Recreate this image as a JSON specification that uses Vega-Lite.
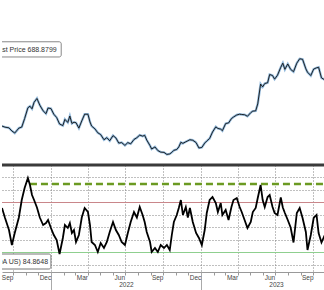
{
"$schema": "https://vega.github.io/schema/vega-lite/v6.json",
"padding": 0,
"background": "white",
"spacing": 0,
"bounds": "flush",
"config": {"view": {"stroke": null}, "font": "Liberation Sans"},
"datasets": {
"price": [
{"d":"2021-09-04","p":226},{"d":"2021-09-11","p":222},{"d":"2021-09-21","p":219},{"d":"2021-09-28","p":207},{"d":"2021-10-05","p":199},{"d":"2021-10-15","p":218},{"d":"2021-10-22","p":222},{"d":"2021-10-29","p":255},{"d":"2021-11-06","p":297},{"d":"2021-11-11","p":303},{"d":"2021-11-16","p":293},{"d":"2021-11-21","p":318},{"d":"2021-11-28","p":333},{"d":"2021-12-05","p":307},{"d":"2021-12-13","p":285},{"d":"2021-12-20","p":274},{"d":"2021-12-25","p":296},
{"d":"2022-01-01","p":294},{"d":"2022-01-08","p":272},{"d":"2022-01-15","p":259},{"d":"2022-01-22","p":234},{"d":"2022-01-30","p":228},{"d":"2022-02-04","p":252},{"d":"2022-02-11","p":240},{"d":"2022-02-16","p":265},{"d":"2022-02-21","p":236},{"d":"2022-02-26","p":241},{"d":"2022-03-03","p":239},{"d":"2022-03-10","p":218},{"d":"2022-03-17","p":246},{"d":"2022-03-24","p":272},{"d":"2022-04-01","p":272},{"d":"2022-04-06","p":242},{"d":"2022-04-10","p":226},{"d":"2022-04-18","p":215},{"d":"2022-04-25","p":200},{"d":"2022-05-02","p":193},{"d":"2022-05-10","p":173},{"d":"2022-05-17","p":181},{"d":"2022-05-24","p":169},{"d":"2022-06-01","p":189},{"d":"2022-06-08","p":180},{"d":"2022-06-15","p":160},{"d":"2022-06-22","p":162},{"d":"2022-06-30","p":151},{"d":"2022-07-07","p":162},{"d":"2022-07-14","p":157},{"d":"2022-07-22","p":174},{"d":"2022-07-29","p":181},{"d":"2022-08-05","p":191},{"d":"2022-08-12","p":187},{"d":"2022-08-17","p":190},{"d":"2022-08-22","p":172},{"d":"2022-08-30","p":150},{"d":"2022-09-03","p":137},{"d":"2022-09-11","p":145},{"d":"2022-09-18","p":131},{"d":"2022-09-25","p":125},{"d":"2022-10-03","p":124},{"d":"2022-10-10","p":116},{"d":"2022-10-17","p":118},{"d":"2022-10-22","p":124},{"d":"2022-10-27","p":132},{"d":"2022-11-03","p":135},{"d":"2022-11-08","p":145},{"d":"2022-11-13","p":163},{"d":"2022-11-18","p":159},{"d":"2022-11-25","p":165},{"d":"2022-11-30","p":169},{"d":"2022-12-05","p":173},{"d":"2022-12-12","p":171},{"d":"2022-12-20","p":162},{"d":"2022-12-27","p":141},
{"d":"2023-01-03","p":143},{"d":"2023-01-10","p":160},{"d":"2023-01-15","p":168},{"d":"2023-01-22","p":178},{"d":"2023-01-29","p":203},{"d":"2023-02-06","p":223},{"d":"2023-02-11","p":217},{"d":"2023-02-18","p":214},{"d":"2023-02-22","p":208},{"d":"2023-03-02","p":236},{"d":"2023-03-09","p":238},{"d":"2023-03-16","p":255},{"d":"2023-03-21","p":261},{"d":"2023-03-29","p":269},{"d":"2023-04-05","p":272},{"d":"2023-04-10","p":271},{"d":"2023-04-17","p":270},{"d":"2023-04-24","p":264},{"d":"2023-05-02","p":278},{"d":"2023-05-07","p":284},{"d":"2023-05-14","p":285},{"d":"2023-05-19","p":312},{"d":"2023-05-26","p":389},{"d":"2023-05-31","p":378},{"d":"2023-06-05","p":391},{"d":"2023-06-12","p":394},{"d":"2023-06-17","p":426},{"d":"2023-06-24","p":422},{"d":"2023-06-29","p":408},{"d":"2023-07-06","p":423},{"d":"2023-07-14","p":454},{"d":"2023-07-19","p":470},{"d":"2023-07-24","p":446},{"d":"2023-07-31","p":467},{"d":"2023-08-07","p":446},{"d":"2023-08-14","p":437},{"d":"2023-08-22","p":470},{"d":"2023-08-29","p":487},{"d":"2023-09-05","p":485},{"d":"2023-09-13","p":448},{"d":"2023-09-17","p":435},{"d":"2023-09-25","p":422},{"d":"2023-10-02","p":447},{"d":"2023-10-09","p":452},{"d":"2023-10-14","p":454},{"d":"2023-10-21","p":413},{"d":"2023-10-29","p":405}
],
"rsi": [
{"d":"2021-09-04","r":65.6},{"d":"2021-09-11","r":58},{"d":"2021-09-21","r":48},{"d":"2021-09-28","r":36},{"d":"2021-10-05","r":45.6},{"d":"2021-10-15","r":58},{"d":"2021-10-22","r":72},{"d":"2021-10-29","r":81.6},{"d":"2021-11-06","r":89.6},{"d":"2021-11-11","r":84},{"d":"2021-11-16","r":76},{"d":"2021-11-21","r":72},{"d":"2021-11-28","r":66},{"d":"2021-12-05","r":58},{"d":"2021-12-13","r":52},{"d":"2021-12-20","r":53.6},{"d":"2021-12-25","r":56},
{"d":"2022-01-01","r":49.6},{"d":"2022-01-08","r":44},{"d":"2022-01-15","r":40},{"d":"2022-01-22","r":28.8},{"d":"2022-01-30","r":41.6},{"d":"2022-02-04","r":52},{"d":"2022-02-11","r":49.6},{"d":"2022-02-16","r":53.6},{"d":"2022-02-21","r":45.6},{"d":"2022-02-26","r":48},{"d":"2022-03-03","r":38.4},{"d":"2022-03-10","r":44},{"d":"2022-03-17","r":58},{"d":"2022-03-24","r":65.6},{"d":"2022-04-01","r":62.4},{"d":"2022-04-06","r":52},{"d":"2022-04-10","r":38.4},{"d":"2022-04-18","r":36},{"d":"2022-04-25","r":30.4},{"d":"2022-05-02","r":37.6},{"d":"2022-05-10","r":33.6},{"d":"2022-05-17","r":38.4},{"d":"2022-05-24","r":46.4},{"d":"2022-06-01","r":54.4},{"d":"2022-06-08","r":48},{"d":"2022-06-15","r":44},{"d":"2022-06-22","r":38.4},{"d":"2022-06-30","r":36},{"d":"2022-07-07","r":45.6},{"d":"2022-07-14","r":54.4},{"d":"2022-07-22","r":62.4},{"d":"2022-07-29","r":58},{"d":"2022-08-05","r":66.4},{"d":"2022-08-12","r":60},{"d":"2022-08-17","r":54.4},{"d":"2022-08-22","r":46.4},{"d":"2022-08-30","r":38.4},{"d":"2022-09-03","r":30.4},{"d":"2022-09-11","r":33.6},{"d":"2022-09-18","r":30.4},{"d":"2022-09-25","r":36},{"d":"2022-10-03","r":33.6},{"d":"2022-10-10","r":36},{"d":"2022-10-17","r":32},{"d":"2022-10-22","r":44},{"d":"2022-10-27","r":54.4},{"d":"2022-11-03","r":60},{"d":"2022-11-08","r":65.6},{"d":"2022-11-13","r":72},{"d":"2022-11-18","r":60},{"d":"2022-11-25","r":66.4},{"d":"2022-11-30","r":58},{"d":"2022-12-05","r":65.6},{"d":"2022-12-12","r":54.4},{"d":"2022-12-20","r":45.6},{"d":"2022-12-27","r":41.6},
{"d":"2023-01-03","r":36},{"d":"2023-01-10","r":48},{"d":"2023-01-15","r":61.6},{"d":"2023-01-22","r":72},{"d":"2023-01-29","r":74.4},{"d":"2023-02-06","r":69.6},{"d":"2023-02-11","r":62.4},{"d":"2023-02-18","r":69.6},{"d":"2023-02-22","r":60},{"d":"2023-03-02","r":64},{"d":"2023-03-09","r":56},{"d":"2023-03-16","r":66.4},{"d":"2023-03-21","r":72},{"d":"2023-03-29","r":73.6},{"d":"2023-04-05","r":66.4},{"d":"2023-04-10","r":62.4},{"d":"2023-04-17","r":56},{"d":"2023-04-24","r":49.6},{"d":"2023-05-02","r":54.4},{"d":"2023-05-07","r":62.4},{"d":"2023-05-14","r":65.6},{"d":"2023-05-19","r":73.6},{"d":"2023-05-26","r":84},{"d":"2023-05-31","r":72},{"d":"2023-06-05","r":66.4},{"d":"2023-06-12","r":74.4},{"d":"2023-06-17","r":76},{"d":"2023-06-24","r":66.4},{"d":"2023-06-29","r":61.6},{"d":"2023-07-06","r":60},{"d":"2023-07-14","r":74},{"d":"2023-07-19","r":66},{"d":"2023-07-24","r":61.6},{"d":"2023-07-31","r":56},{"d":"2023-08-07","r":50},{"d":"2023-08-14","r":38},{"d":"2023-08-22","r":61.6},{"d":"2023-08-29","r":65.6},{"d":"2023-09-05","r":57.6},{"d":"2023-09-13","r":46.4},{"d":"2023-09-17","r":32},{"d":"2023-09-25","r":44},{"d":"2023-10-02","r":57.6},{"d":"2023-10-09","r":60},{"d":"2023-10-14","r":45.6},{"d":"2023-10-21","r":38},{"d":"2023-10-29","r":44}
]
},
"vconcat": [
{
"width": 324, "height": 165,
"layer": [
{"data": {"name": "price"},
 "mark": {"type": "line", "color": "#6fa3d0", "strokeWidth": 2.4, "opacity": 0.75, "clip": true},
 "encoding": {
  "x": {"field": "d", "type": "temporal", "scale": {"domain": [{"year":2021,"month":9,"date":4},{"year":2023,"month":11,"date":1}]},
        "axis": {"orient": "bottom", "tickCount": {"interval": "month", "step": 3}, "grid": true, "gridColor": "#808080", "gridOpacity": 1, "gridDash": [1,2], "gridWidth": 1, "labels": false, "ticks": false, "domain": false, "title": null}},
  "y": {"field": "p", "type": "quantitative", "scale": {"domain": [75, 715], "nice": false, "zero": false},
        "axis": {"values": [100,200,300,400,500,600,700], "grid": true, "gridColor": "#808080", "gridOpacity": 1, "gridDash": [1,2], "gridWidth": 1, "labels": false, "ticks": false, "domain": false, "title": null}}
 }},
{"data": {"name": "price"},
 "mark": {"type": "line", "color": "#111111", "strokeWidth": 0.9, "clip": true},
 "encoding": {
  "x": {"field": "d", "type": "temporal", "scale": {"domain": [{"year":2021,"month":9,"date":4},{"year":2023,"month":11,"date":1}]}, "axis": null},
  "y": {"field": "p", "type": "quantitative", "scale": {"domain": [75, 715], "nice": false, "zero": false}, "axis": null}
 }},
{"data": {"values": [{"label": "Last Price 688.8799"}]},
 "mark": {"type": "rect", "fill": "white", "stroke": "#888888", "strokeWidth": 1, "cornerRadius": 2, "clip": true},
 "encoding": {
  "x": {"datum": {"year":2021,"month":7,"date":1}, "type": "temporal", "scale": {"domain": [{"year":2021,"month":9,"date":4},{"year":2023,"month":11,"date":1}]}, "axis": null},
  "x2": {"datum": {"year":2022,"month":1,"date":26}},
  "y": {"datum": 494, "type": "quantitative", "scale": {"domain": [75, 715], "nice": false, "zero": false}, "axis": null},
  "y2": {"datum": 553}
 }},
{"data": {"values": [{"label": "Last Price 688.8799"}]},
 "mark": {"type": "text", "align": "right", "baseline": "middle", "fontSize": 7, "color": "#333333", "clip": true},
 "encoding": {
  "x": {"datum": {"year":2022,"month":1,"date":15}, "type": "temporal", "scale": {"domain": [{"year":2021,"month":9,"date":4},{"year":2023,"month":11,"date":1}]}, "axis": null},
  "y": {"datum": 523, "type": "quantitative", "scale": {"domain": [75, 715], "nice": false, "zero": false}, "axis": null},
  "text": {"field": "label"}
 }}
]
},
{
"width": 324, "height": 107,
"resolve": {"axis": {"x": "independent", "y": "independent"}},
"layer": [
{"data": {"values": [{}]},
 "mark": {"type": "rule", "color": "#c9868a", "strokeWidth": 1},
 "encoding": {"y": {"datum": 70, "type": "quantitative", "scale": {"domain": [14.4, 100], "nice": false, "zero": false}, "axis": null}}},
{"data": {"values": [{}]},
 "mark": {"type": "rule", "color": "#8fcf8f", "strokeWidth": 1},
 "encoding": {"y": {"datum": 30, "type": "quantitative", "scale": {"domain": [14.4, 100], "nice": false, "zero": false}, "axis": null}}},
{"data": {"values": [{}]},
 "mark": {"type": "rule", "color": "#6b9a22", "strokeWidth": 2.5, "strokeDash": [7, 4]},
 "encoding": {
  "x": {"datum": {"year":2021,"month":11,"date":11}, "type": "temporal", "scale": {"domain": [{"year":2021,"month":9,"date":4},{"year":2023,"month":11,"date":1}]},
        "axis": {"orient": "bottom", "tickCount": {"interval": "month", "step": 1}, "ticks": true, "tickSize": 3, "tickColor": "#999999", "domain": true, "domainColor": "#999999", "labels": false, "grid": false, "title": null}},
  "x2": {"datum": {"year":2023,"month":11,"date":1}},
  "y": {"datum": 84.8648, "type": "quantitative", "scale": {"domain": [14.4, 100], "nice": false, "zero": false}, "axis": null}
 }},
{"data": {"values": [{}]},
 "mark": {"type": "rule", "color": "#3a3a3a", "strokeWidth": 3},
 "encoding": {"y": {"datum": 100, "type": "quantitative", "scale": {"domain": [14.4, 100], "nice": false, "zero": false}, "axis": null}}},
{"data": {"values": [{"label": "RSI (NVDA US) 84.8648"}]},
 "mark": {"type": "rect", "fill": "white", "stroke": "#777777", "strokeWidth": 1, "cornerRadius": 2, "clip": true},
 "encoding": {
  "x": {"datum": {"year":2021,"month":7,"date":1}, "type": "temporal", "scale": {"domain": [{"year":2021,"month":9,"date":4},{"year":2023,"month":11,"date":1}]},
        "axis": {"orient": "bottom", "tickCount": {"interval": "year", "step": 1}, "ticks": true, "tickSize": 18, "tickColor": "#aaaaaa", "domain": false, "grid": false, "labelExpr": "timeFormat(datum.value, '%Y')", "labelOffset": 75, "labelPadding": -9, "labelFontSize": 6.5, "labelColor": "#444444", "labelOverlap": false, "labelFlush": false, "labelBound": false, "title": null}},
  "x2": {"datum": {"year":2022,"month":1,"date":1}},
  "y": {"datum": 16.8, "type": "quantitative", "scale": {"domain": [14.4, 100], "nice": false, "zero": false}, "axis": null},
  "y2": {"datum": 28.8}
 }},
{"data": {"values": [{"label": "RSI (NVDA US) 84.8648"}]},
 "mark": {"type": "text", "align": "right", "baseline": "middle", "fontSize": 7, "color": "#333333", "clip": true},
 "encoding": {
  "x": {"datum": {"year":2021,"month":12,"date":25}, "type": "temporal", "scale": {"domain": [{"year":2021,"month":9,"date":4},{"year":2023,"month":11,"date":1}]}, "axis": null},
  "y": {"datum": 22.8, "type": "quantitative", "scale": {"domain": [14.4, 100], "nice": false, "zero": false}, "axis": null},
  "text": {"field": "label"}
 }},
{"data": {"name": "rsi"},
 "mark": {"type": "line", "color": "#000000", "strokeWidth": 1.8, "clip": true},
 "encoding": {
  "x": {"field": "d", "type": "temporal", "scale": {"domain": [{"year":2021,"month":9,"date":4},{"year":2023,"month":11,"date":1}]},
        "axis": {"orient": "bottom", "tickCount": {"interval": "month", "step": 3}, "grid": true, "gridColor": "#808080", "gridOpacity": 1, "gridDash": [1,2], "gridWidth": 1, "ticks": false, "domain": false, "labelExpr": "timeFormat(datetime(year(datum.value), month(datum.value) - 1, 15), '%b')", "labelOffset": -6, "labelPadding": 2, "labelFontSize": 6.5, "labelColor": "#444444", "labelOverlap": false, "labelFlush": false, "labelBound": false, "title": null}},
  "y": {"field": "r", "type": "quantitative", "scale": {"domain": [14.4, 100], "nice": false, "zero": false},
        "axis": {"values": [20,40,50,60,80,90], "grid": true, "gridColor": "#808080", "gridOpacity": 1, "gridDash": [1,2], "gridWidth": 1, "labels": false, "ticks": false, "domain": false, "title": null}}
 }}
]
}
]
}
